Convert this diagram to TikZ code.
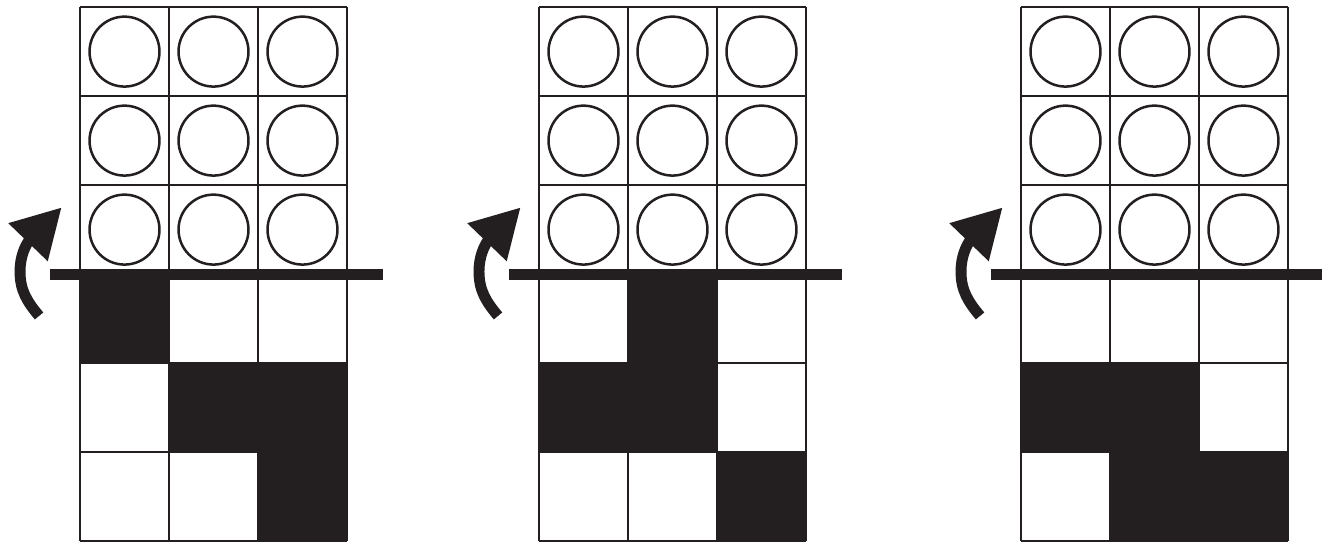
\documentclass[tikz,border=0pt]{standalone}
\usetikzlibrary{arrows.meta}
\definecolor{ink}{HTML}{231F20}
\begin{document}
\begin{tikzpicture}[x=1cm,y=1cm,
    cell/.style={draw=ink, line width=0.8pt},
    fold/.style={draw=ink, line width=3.5pt},
    turn/.style={draw=ink, line width=3.5pt, -{Triangle[length=15.5pt,width=16.5pt]}}]
    \useasboundingbox (0,-0.01) rectangle (14.854,6.08);

    % three panels: left edge / black squares (col/row) under the fold
    \foreach \px/\cells in {0.899/{0/2,1/1,2/1,2/0}, 6.056/{1/2,0/1,1/1,2/0}, 11.472/{0/1,1/1,1/0,2/0}} {
      \begin{scope}[xshift=\px cm]
        % black squares
        \foreach \c/\r in \cells
          \fill[ink] (\c,\r) rectangle ++(1,1);

        % grid
        \draw[cell] (0,0) grid (3,6);

        % circles above the fold
        \foreach \c in {0,1,2}
          \foreach \r in {3,4,5}
            \draw[cell] (\c+0.5,\r+0.5) circle (0.393);

        % fold line
        \draw[fold] (-0.337,3) -- (3.4,3);

        % turn-over arrow
        \draw[turn] (-0.46,2.53) to[out=130,in=-90] (-0.674,3.03) to[out=90,in=226] (-0.206,3.75);
      \end{scope}
    }

\end{tikzpicture}
\end{document}
